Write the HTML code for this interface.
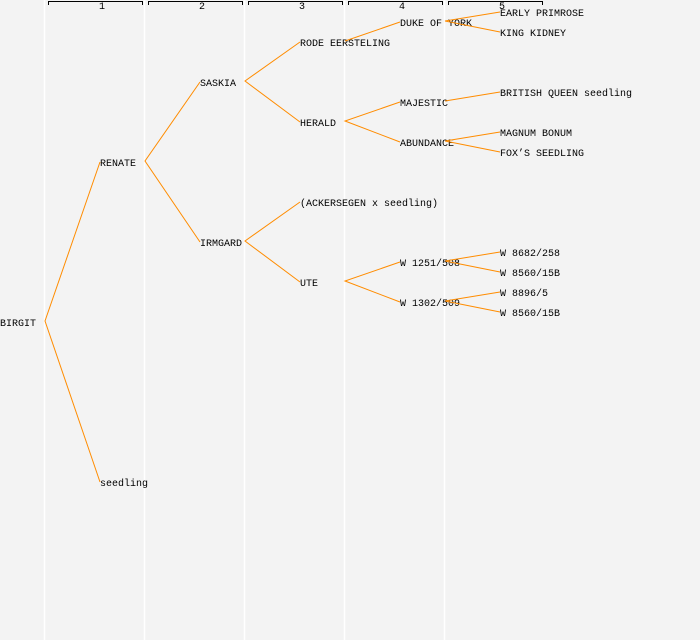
<!DOCTYPE html>
<html><head><style>
html,body{margin:0;padding:0;background:#f3f3f3;}
svg{display:block;}
text{font-family:"Liberation Mono","DejaVu Sans Mono",monospace;font-size:10px;fill:#000;}
</style></head><body>
<svg width="700" height="640" xmlns="http://www.w3.org/2000/svg">
<rect width="700" height="640" fill="#f3f3f3"/>
<g stroke="#ffffff" stroke-width="1.5">
<line x1="44.5" y1="0" x2="44.5" y2="640"/>
<line x1="144.5" y1="0" x2="144.5" y2="640"/>
<line x1="244.5" y1="0" x2="244.5" y2="640"/>
<line x1="344.5" y1="0" x2="344.5" y2="640"/>
<line x1="444.5" y1="0" x2="444.5" y2="640"/>
</g>
<g stroke="#000" stroke-width="1" fill="none">
<path d="M48.5,5V1.5H142.5V5"/>
<path d="M148.5,5V1.5H242.5V5"/>
<path d="M248.5,5V1.5H342.5V5"/>
<path d="M348.5,5V1.5H442.5V5"/>
<path d="M448.5,5V1.5H542.5V5"/>
</g>
<g style="font-size:8px" text-anchor="middle">
<text x="102" y="9">1</text><text x="202" y="9">2</text><text x="302" y="9">3</text><text x="402" y="9">4</text><text x="502" y="9">5</text>
</g>
<g>
<text x="0" y="326">BIRGIT</text>
<text x="100" y="166">RENATE</text>
<text x="100" y="486">seedling</text>
<text x="200" y="86">SASKIA</text>
<text x="200" y="246">IRMGARD</text>
<text x="300" y="46">RODE EERSTELING</text>
<text x="300" y="126">HERALD</text>
<text x="300" y="206">(ACKERSEGEN x seedling)</text>
<text x="300" y="286">UTE</text>
<text x="400" y="26">DUKE OF YORK</text>
<text x="400" y="106">MAJESTIC</text>
<text x="400" y="146">ABUNDANCE</text>
<text x="400" y="266">W 1251/508</text>
<text x="400" y="306">W 1302/509</text>
<text x="500" y="16">EARLY PRIMROSE</text>
<text x="500" y="36">KING KIDNEY</text>
<text x="500" y="96">BRITISH QUEEN seedling</text>
<text x="500" y="136">MAGNUM BONUM</text>
<text x="500" y="156">FOX’S SEEDLING</text>
<text x="500" y="256">W 8682/258</text>
<text x="500" y="276">W 8560/15B</text>
<text x="500" y="296">W 8896/5</text>
<text x="500" y="316">W 8560/15B</text>
</g>
<g stroke="#ff8c00" stroke-width="1" fill="none">
<path d="M100,162L45,321L100,482"/>
<path d="M200,82L145,161L200,242"/>
<path d="M300,42L245,81L300,122"/>
<path d="M300,202L245,241L300,282"/>
<path d="M400,22L345,41"/>
<path d="M400,102L345,121L400,142"/>
<path d="M400,262L345,281L400,302"/>
<path d="M500,12L445,21L500,32"/>
<path d="M500,92L445,101"/>
<path d="M500,132L445,141L500,152"/>
<path d="M500,252L445,261L500,272"/>
<path d="M500,292L445,301L500,312"/>
</g>
</svg>
</body></html>
